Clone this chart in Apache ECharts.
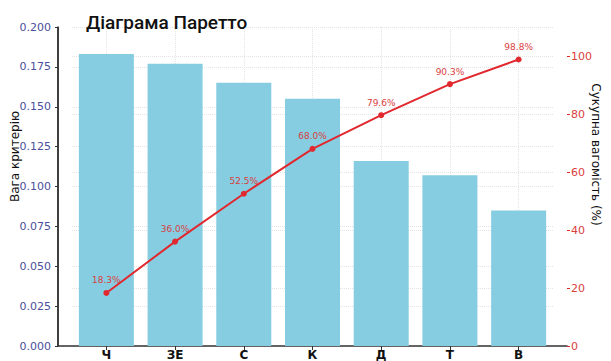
<!DOCTYPE html>
<html>
<head>
<meta charset="utf-8">
<script src="https://cdn.jsdelivr.net/npm/echarts@6/dist/echarts.min.js"></script>
<style>
  html, body { margin: 0; padding: 0; background: #fff; }
  #main { width: 611px; height: 361px; }
</style>
</head>
<body>
<div id="main"></div>
<script>
var chartDom = document.getElementById('main');
var myChart = echarts.init(chartDom, null, { renderer: 'svg' });

// criteria and their weights, sorted descending
const categories = ['Ч', 'ЗЕ', 'С', 'К', 'Д', 'Т', 'В'];
const weights = [0.183, 0.177, 0.165, 0.155, 0.116, 0.107, 0.085];
// cumulative share, %
const cumulative = [18.3, 36.0, 52.5, 68.0, 79.6, 90.3, 98.8];
const leftTicks = { min: 0, max: 0.2, interval: 0.025 };
const rightTicks = { min: 0, max: 110, interval: 20 };

const W = 611;
const plotL = 72, plotR = 58, plotTop = 27, plotBottom = 15;
const half = (W - plotL - plotR) / 14; // half a category band
const gridColor = '#e4e4e4';
const red = '#e0282e';
const spine = { show: true, onZero: false, lineStyle: { color: '#333', width: 1.5 } };

var option = {
    animation: false,
    textStyle: { fontFamily: 'DejaVu Sans' },
    title: {
        text: 'Діаграма Паретто',
        left: 81,
        top: 8,
        textStyle: { fontFamily: 'Roboto', fontWeight: 500, fontSize: 19, color: '#111' }
    },
    grid: [
        { left: plotL, right: plotR, top: plotTop, bottom: plotBottom, outerBoundsMode: 'none' },
        { left: 58, right: 44, top: plotTop, bottom: plotBottom, outerBoundsMode: 'none' },
        { left: plotL + half, right: plotR + half, top: plotTop, bottom: plotBottom, outerBoundsMode: 'none' },
        // zero-width grid: its border is the left spine
        {
            left: 58, width: 0, top: plotTop, bottom: plotBottom, outerBoundsMode: 'none',
            show: true, borderColor: '#333', borderWidth: 1.5, backgroundColor: 'transparent'
        }
    ],
    xAxis: [
        {
            type: 'category',
            gridIndex: 0,
            data: categories,
            axisLine: { show: false },
            axisTick: { show: true, alignWithLabel: true, length: 4, lineStyle: { color: '#333' } },
            axisLabel: { color: '#111', fontSize: 12, fontWeight: 'bold', margin: 3 }
        },
        {
            type: 'value',
            gridIndex: 1,
            min: 0,
            max: 1,
            axisLine: spine,
            axisTick: { show: false },
            axisLabel: { show: false },
            splitLine: { show: false }
        },
        {
            type: 'category',
            gridIndex: 2,
            data: categories,
            boundaryGap: false,
            axisLine: { show: false },
            axisTick: { show: false },
            axisLabel: { show: false },
            splitLine: { show: true, lineStyle: { color: gridColor, type: 'dotted' } }
        },
        { type: 'value', gridIndex: 3, show: false }
    ],
    yAxis: [
        {
            type: 'value',
            gridIndex: 0,
            min: leftTicks.min,
            max: leftTicks.max,
            interval: leftTicks.interval,
            offset: plotL - 58,
            name: 'Вага критерію',
            nameLocation: 'middle',
            nameMoveOverlap: false,
            nameGap: 37,
            nameTextStyle: { color: '#111', fontSize: 12, padding: [0, 0, 0, 60] },
            axisLine: { show: false },
            axisTick: { show: true, length: 3, lineStyle: { color: '#333' } },
            axisLabel: {
                color: '#4b4f9c',
                fontSize: 11,
                margin: 7,
                formatter: function (v) { return v.toFixed(3); }
            },
            splitLine: { show: true, lineStyle: { color: gridColor, type: 'dotted' } }
        },
        {
            type: 'value',
            gridIndex: 0,
            position: 'right',
            min: rightTicks.min,
            max: rightTicks.max,
            interval: rightTicks.interval,
            offset: plotR - 44,
            name: 'Сукупна вагомість (%)',
            nameLocation: 'middle',
            nameMoveOverlap: false,
            nameRotate: -90,
            nameGap: 23,
            nameTextStyle: { color: '#111', fontSize: 12, padding: [0, 64, 0, 0] },
            axisLine: { show: false },
            axisTick: { show: true, length: 3, lineStyle: { color: red } },
            axisLabel: {
                color: '#d9413e',
                fontSize: 11,
                margin: 4,
                showMaxLabel: false,
                formatter: function (v) { return v > 100 ? '' : v; }
            },
            splitLine: { show: true, lineStyle: { color: gridColor, type: 'dotted' } }
        },
        {
            type: 'value',
            gridIndex: 1,
            position: 'left',
            min: 0,
            max: 1,
            axisLine: spine,
            axisTick: { show: false },
            axisLabel: { show: false },
            splitLine: { show: false }
        },
        { type: 'value', gridIndex: 2, show: false },
        { type: 'value', gridIndex: 3, show: false }
    ],
    series: [
        {
            type: 'bar',
            xAxisIndex: 0,
            yAxisIndex: 0,
            data: weights,
            barWidth: 55,
            itemStyle: { color: '#86cde2' }
        },
        {
            type: 'line',
            xAxisIndex: 0,
            yAxisIndex: 1,
            data: cumulative,
            symbol: 'circle',
            symbolSize: 6,
            lineStyle: { color: red, width: 2 },
            itemStyle: { color: red },
            label: {
                show: true,
                position: 'top',
                distance: 5,
                color: '#d9413e',
                fontSize: 9,
                formatter: function (p) { return p.value.toFixed(1) + '%'; }
            },
            z: 5
        }
    ]
};
option && myChart.setOption(option);
</script>
</body>
</html>
